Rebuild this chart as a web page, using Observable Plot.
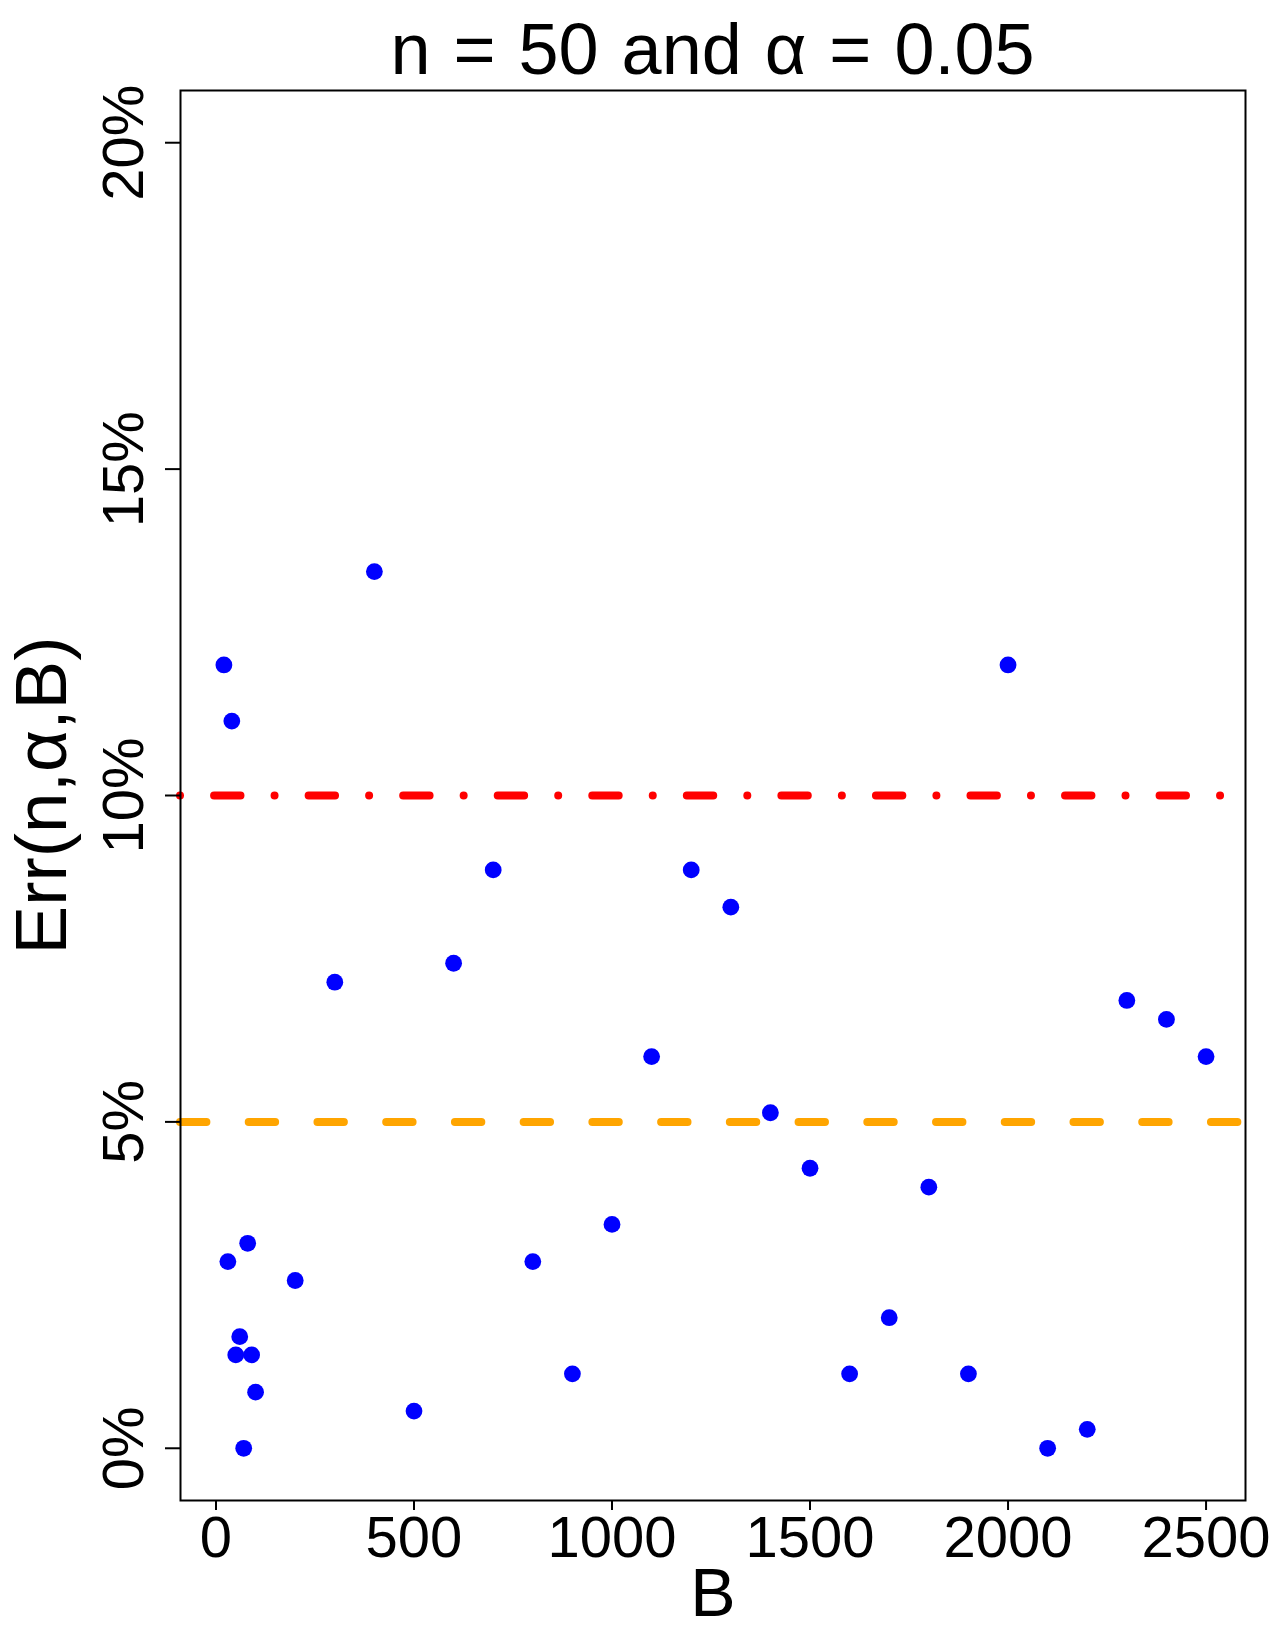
<!DOCTYPE html>
<html>
<head>
<meta charset="utf-8">
<script src="https://cdn.jsdelivr.net/npm/d3@7"></script>
<script src="https://cdn.jsdelivr.net/npm/@observablehq/plot@0.6"></script>
<style>
  body { margin: 0; background: #fff; }
  #wrap { position: relative; width: 1275px; height: 1650px; }
  #title {
    position: absolute; left: 150px; width: 1125px; top: 13px;
    text-align: center; font-family: "Liberation Sans", Arial, sans-serif;
    font-size: 72px; line-height: 72px; white-space: pre; color: #000;
    word-spacing: 3px;
  }
</style>
</head>
<body>
<div id="wrap"><div id="title">n = 50 and α = 0.05</div></div>
<script>
// Bootstrap sizes B
const B = [20, 30, 40, 50, 60, 70, 80, 90, 100,
  200, 300, 400, 500, 600, 700, 800, 900, 1000,
  1100, 1200, 1300, 1400, 1500, 1600, 1700, 1800, 1900, 2000,
  2100, 2200, 2300, 2400, 2500];
// Err(n, alpha, B) in percent
const errPct = [12.00, 2.86, 11.14, 1.43, 1.71, 0.00, 3.14, 1.43, 0.86,
  2.57, 7.14, 13.43, 0.57, 7.43, 8.86, 2.86, 1.14, 3.43,
  6.00, 8.86, 8.29, 5.14, 4.29, 1.14, 2.00, 4.00, 1.14, 12.00,
  0.00, 0.29, 6.86, 6.57, 6.00];
const xTicks = [0, 500, 1000, 1500, 2000, 2500];
const xTickLabels = ["0", "500", "1000", "1500", "2000", "2500"];
const yTicks = [0, 5, 10, 15, 20];
const yTickLabels = ["0%", "5%", "10%", "15%", "20%"];
const alphaLine = [5];
const doubleAlphaLine = [10];

const data = B.map((b, i) => ({B: b, err: errPct[i]}));
const font = '"Liberation Sans", Arial, sans-serif';

const chart = Plot.plot({
  width: 1275,
  height: 1650,
  marginLeft: 180,
  marginRight: 30,
  marginTop: 90,
  marginBottom: 150,
  style: {fontFamily: font, background: "white", color: "black", overflow: "visible"},
  x: {domain: [-89.6, 2599.6]},
  y: {domain: [-0.8, 20.8]},
  marks: [
    Plot.dot(data, {x: "B", y: "err", r: 8.4, fill: "#0000ff", stroke: null}),
    Plot.ruleY(alphaLine, {stroke: "#ffa500", strokeWidth: 8, strokeLinecap: "round", strokeDasharray: "26.4,42.33"}),
    Plot.ruleY(doubleAlphaLine, {stroke: "#ff0000", strokeWidth: 8, strokeLinecap: "round", strokeDasharray: "0.01,34.07,26.4,34.07"}),
    Plot.frame({stroke: "black", strokeWidth: 2}),
    Plot.axisX(xTicks, {tickSize: 10, tickPadding: 5, fontSize: 58, strokeWidth: 2, label: null,
      tickFormat: d => xTickLabels[xTicks.indexOf(d)]}),
    Plot.axisY(yTicks, {tickSize: 15, tickFormat: () => "", strokeWidth: 2, label: null}),
    Plot.text(yTicks, {y: d => d, text: (d, i) => yTickLabels[i], frameAnchor: "left", dx: -38, rotate: -90,
      textAnchor: "middle", lineAnchor: "bottom", fontSize: 58}),
    Plot.text(["Err(n,α,B)"], {frameAnchor: "left", dx: -115, rotate: -90, textAnchor: "middle",
      lineAnchor: "bottom", fontSize: 73}),
    Plot.text(["B"], {frameAnchor: "bottom", dy: 115, textAnchor: "middle", lineAnchor: "bottom", fontSize: 68})
  ]
});
document.getElementById("wrap").prepend(chart);
</script>
</body>
</html>
